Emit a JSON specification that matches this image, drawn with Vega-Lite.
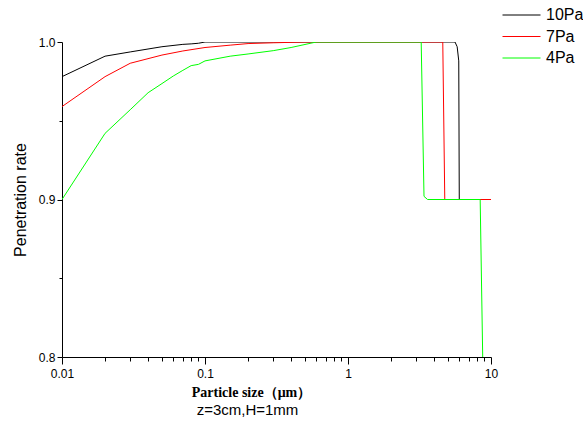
{
  "$schema": "https://vega.github.io/schema/vega-lite/v6.json",
  "width": 429,
  "height": 315,
  "autosize": {"type": "none"},
  "padding": {"left": 62, "top": 42, "right": 92, "bottom": 64},
  "background": "white",
  "title": {"text": "z=3cm,H=1mm", "orient": "bottom", "frame": "group", "anchor": "middle", "dx": -29, "offset": 4, "font": "Liberation Sans", "fontSize": 15, "fontWeight": "normal", "color": "#000000"},
  "config": {
    "view": {"stroke": null},
    "axis": {"grid": false, "domainColor": "#000000", "tickColor": "#000000", "labelColor": "#000000", "titleColor": "#000000", "labelFont": "Liberation Sans", "labelFontSize": 12, "domainWidth": 1, "tickWidth": 1, "labelOverlap": false, "labelBound": false}
  },
  "data": {"values": [
    {"size": 0.01, "rate": 0.978, "series": "10Pa"},
    {"size": 0.02, "rate": 0.991, "series": "10Pa"},
    {"size": 0.03, "rate": 0.9937, "series": "10Pa"},
    {"size": 0.05, "rate": 0.997, "series": "10Pa"},
    {"size": 0.07, "rate": 0.9985, "series": "10Pa"},
    {"size": 0.08, "rate": 0.9988, "series": "10Pa"},
    {"size": 0.09, "rate": 0.9992, "series": "10Pa"},
    {"size": 0.1, "rate": 1.0, "series": "10Pa"},
    {"size": 5.6, "rate": 1.0, "series": "10Pa"},
    {"size": 5.8, "rate": 0.997, "series": "10Pa"},
    {"size": 5.95, "rate": 0.988, "series": "10Pa"},
    {"size": 6.0, "rate": 0.9, "series": "10Pa"},
    {"size": 10, "rate": 0.9, "series": "10Pa"},
    {"size": 0.01, "rate": 0.959, "series": "7Pa"},
    {"size": 0.02, "rate": 0.978, "series": "7Pa"},
    {"size": 0.03, "rate": 0.9865, "series": "7Pa"},
    {"size": 0.05, "rate": 0.9917, "series": "7Pa"},
    {"size": 0.07, "rate": 0.9943, "series": "7Pa"},
    {"size": 0.1, "rate": 0.9965, "series": "7Pa"},
    {"size": 0.15, "rate": 0.998, "series": "7Pa"},
    {"size": 0.2, "rate": 0.999, "series": "7Pa"},
    {"size": 0.3, "rate": 0.9995, "series": "7Pa"},
    {"size": 0.5, "rate": 1.0, "series": "7Pa"},
    {"size": 4.6, "rate": 1.0, "series": "7Pa"},
    {"size": 4.75, "rate": 0.9, "series": "7Pa"},
    {"size": 10, "rate": 0.9, "series": "7Pa"},
    {"size": 0.01, "rate": 0.9, "series": "4Pa"},
    {"size": 0.02, "rate": 0.942, "series": "4Pa"},
    {"size": 0.03, "rate": 0.957, "series": "4Pa"},
    {"size": 0.04, "rate": 0.9678, "series": "4Pa"},
    {"size": 0.05, "rate": 0.9736, "series": "4Pa"},
    {"size": 0.06, "rate": 0.9784, "series": "4Pa"},
    {"size": 0.07, "rate": 0.982, "series": "4Pa"},
    {"size": 0.08, "rate": 0.985, "series": "4Pa"},
    {"size": 0.09, "rate": 0.9858, "series": "4Pa"},
    {"size": 0.1, "rate": 0.988, "series": "4Pa"},
    {"size": 0.15, "rate": 0.991, "series": "4Pa"},
    {"size": 0.2, "rate": 0.9924, "series": "4Pa"},
    {"size": 0.3, "rate": 0.9945, "series": "4Pa"},
    {"size": 0.4, "rate": 0.9965, "series": "4Pa"},
    {"size": 0.6, "rate": 1.0, "series": "4Pa"},
    {"size": 3.25, "rate": 1.0, "series": "4Pa"},
    {"size": 3.4, "rate": 0.902, "series": "4Pa"},
    {"size": 3.6, "rate": 0.9, "series": "4Pa"},
    {"size": 8.4, "rate": 0.9, "series": "4Pa"},
    {"size": 8.75, "rate": 0.8, "series": "4Pa"}
  ]},
  "mark": {"type": "line", "strokeWidth": 1, "clip": true},
  "encoding": {
    "x": {"field": "size", "type": "quantitative", "scale": {"type": "log", "domain": [0.01, 10], "nice": false},
      "axis": {"orient": "bottom",
        "values": [0.01, 0.02, 0.03, 0.04, 0.05, 0.06, 0.07, 0.08, 0.09, 0.1, 0.2, 0.3, 0.4, 0.5, 0.6, 0.7, 0.8, 0.9, 1, 2, 3, 4, 5, 6, 7, 8, 9, 10],
        "labelExpr": "indexof([0.01, 0.1, 1, 10], datum.value) >= 0 ? '' + datum.value : ''",
        "ticks": true,
        "tickSize": 7,
        "tickDash": {"condition": {"test": "indexof([0.01, 0.1, 1, 10], datum.value) >= 0", "value": [7, 0]}, "value": [4, 20]},
        "labelPadding": 4, "labelFlush": false,
        "title": "Particle size（μm）", "titleFont": "Liberation Serif", "titleFontSize": 14, "titleFontWeight": "bold", "titleX": 189, "titleY": 39, "titleBaseline": "alphabetic", "titleAnchor": "middle", "titleAlign": "center"}},
    "y": {"field": "rate", "type": "quantitative", "scale": {"domain": [0.8, 1.0], "nice": false, "zero": false},
      "axis": {"orient": "left", "values": [0.8, 0.85, 0.9, 0.95, 1.0],
        "labelExpr": "indexof([0.8, 0.9, 1], datum.value) >= 0 ? format(datum.value, '.1f') : ''",
        "tickSize": {"condition": {"test": "indexof([0.8, 0.9, 1], datum.value) >= 0", "value": 5}, "value": 3},
        "labelPadding": 2, "labelFlush": false,
        "title": "Penetration rate", "titleFont": "Liberation Sans", "titleFontSize": 16, "titleFontWeight": "normal", "titleX": -37, "titleY": 157.5, "titleBaseline": "alphabetic", "titleAngle": -90, "titleAlign": "center"}},
    "color": {"field": "series", "type": "nominal", "sort": ["10Pa", "7Pa", "4Pa"],
      "scale": {"domain": ["10Pa", "7Pa", "4Pa"], "range": ["#000000", "#ff0000", "#00ff00"]},
      "legend": {"title": null, "orient": "none", "legendX": 440, "legendY": -35, "symbolType": "M-1,0H1", "symbolSize": 1444, "symbolStrokeWidth": 1, "clipHeight": 16, "labelFont": "Liberation Sans", "labelFontSize": 16, "labelColor": "#000000", "labelOffset": 5, "rowPadding": 5.5}}
  }
}
